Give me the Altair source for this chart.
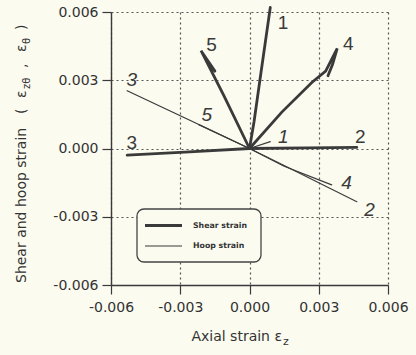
import altair as alt
import pandas as pd

# Strain paths for each loading case: shear (thick) and hoop (thin) strains vs axial strain
shear_1_x = [0.0, 0.0002, 0.00045, 0.0009]
shear_1_y = [0.0, 0.0012, 0.0030, 0.0062]
shear_2_x = [0.0, 0.0025, 0.00465]
shear_2_y = [0.0, 0.00003, 0.00005]
shear_3_x = [0.0, -0.0028, -0.0053]
shear_3_y = [0.0, -0.00016, -0.00029]
shear_4_x = [0.0, 0.0014, 0.0027, 0.0033, 0.0038, 0.0036, 0.0034]
shear_4_y = [0.0, 0.0016, 0.0029, 0.0034, 0.0044, 0.0037, 0.0032]
shear_5_x = [0.0, -0.0011, -0.0021, -0.0015]
shear_5_y = [0.0, 0.0023, 0.0043, 0.0034]

hoop_1_x = [0.0, 0.0009]
hoop_1_y = [0.0, 0.0003]
hoop_2_x = [0.0, 0.0015, 0.00465]
hoop_2_y = [0.0, -0.00075, -0.00234]
hoop_3_x = [0.0, -0.0027, -0.0053]
hoop_3_y = [0.0, 0.0013, 0.00254]
hoop_4_x = [0.0, 0.0015, 0.00356]
hoop_4_y = [0.0, -0.00078, -0.0016]
hoop_5_x = [0.0, -0.0022]
hoop_5_y = [0.0, 0.00105]

# Case labels placed at the ends of the paths
shear_label_text = ["1", "2", "3", "4", "5"]
shear_label_x = [0.00145, 0.0048, -0.0051, 0.00428, -0.00164]
shear_label_y = [0.0055, 0.0005, 0.00023, 0.0046, 0.00455]
hoop_label_text = ["1", "2", "3", "4", "5"]
hoop_label_x = [0.00146, 0.0052, -0.0051, 0.0042, -0.00185]
hoop_label_y = [0.00052, -0.0027, 0.0030, -0.00153, 0.00147]

legend_labels = ["Shear strain", "Hoop strain"]

TICKS = [-0.006, -0.0045, -0.003, -0.0015, 0.0, 0.0015, 0.003, 0.0045, 0.006]

rows = []
series = [
    ("Shear strain", "1", shear_1_x, shear_1_y),
    ("Shear strain", "2", shear_2_x, shear_2_y),
    ("Shear strain", "3", shear_3_x, shear_3_y),
    ("Shear strain", "4", shear_4_x, shear_4_y),
    ("Shear strain", "5", shear_5_x, shear_5_y),
    ("Hoop strain", "1", hoop_1_x, hoop_1_y),
    ("Hoop strain", "2", hoop_2_x, hoop_2_y),
    ("Hoop strain", "3", hoop_3_x, hoop_3_y),
    ("Hoop strain", "4", hoop_4_x, hoop_4_y),
    ("Hoop strain", "5", hoop_5_x, hoop_5_y),
]
for kind, case, xs_, ys_ in series:
    for i, (x, y) in enumerate(zip(xs_, ys_)):
        rows.append({"kind": kind, "path": kind + case, "x": x, "y": y, "order": i})
paths = pd.DataFrame(rows)

labels = pd.DataFrame(
    [{"t": t, "x": x, "y": y, "style": "normal"} for t, x, y in zip(shear_label_text, shear_label_x, shear_label_y)]
    + [{"t": t, "x": x, "y": y, "style": "italic"} for t, x, y in zip(hoop_label_text, hoop_label_x, hoop_label_y)]
)

INK = "#3a3a3a"
TXT = "#333333"
BG = "#fbfbf0"
FONT = "DejaVu Sans"
major = "abs(datum.value * 1000 - round(datum.value * 1000 / 3) * 3) < 0.01"
label_expr = ("abs(datum.value * 1000 - round(datum.value * 1000 / 3) * 3) < 0.01 ? "
              "((datum.value < -0.0001 ? '-' : '') + format(abs(datum.value), '.3f')) : ''")

def axis(**kw):
    return alt.Axis(
        values=TICKS,
        labelExpr=label_expr,
        title=None,
        grid=True,
        gridDash=[2, 3],
        gridColor="#555555",
        gridWidth=1.2,
        gridOpacity={"condition": {"test": major, "value": 1}, "value": 0},
        tickSize={"condition": {"test": major, "value": 9}, "value": 4},
        tickColor=INK,
        tickWidth=1.2,
        domainColor=INK,
        domainWidth=1.4,
        labelFont=FONT,
        labelFontSize=14,
        labelColor=TXT,
        labelFlush=False,
        **kw,
    )

xs = alt.Scale(domain=[-0.006, 0.006], nice=False, zero=False)
ys = alt.Scale(domain=[-0.006, 0.006], nice=False, zero=False)

lines = alt.Chart(paths).mark_line(color=INK, clip=False, strokeCap="round").encode(
    x=alt.X("x:Q", scale=xs, axis=axis(labelPadding=6)),
    y=alt.Y("y:Q", scale=ys, axis=axis(labelPadding=4)),
    detail="path:N",
    order="order:Q",
    strokeWidth=alt.StrokeWidth(
        "kind:N",
        scale=alt.Scale(domain=legend_labels, range=[2.8, 1.2]),
        legend=None,
    ),
)

text_shear = alt.Chart(labels).transform_filter("datum.style == 'normal'").mark_text(
    font="Liberation Sans", fontSize=19, color=INK
).encode(x=alt.X("x:Q", scale=xs), y=alt.Y("y:Q", scale=ys), text="t:N")

text_hoop = alt.Chart(labels).transform_filter("datum.style == 'italic'").mark_text(
    font="Liberation Sans", fontSize=19, fontStyle="italic", color=INK
).encode(x=alt.X("x:Q", scale=xs), y=alt.Y("y:Q", scale=ys), text="t:N")

# Legend box with sample strokes and labels
one = pd.DataFrame({"k": [0]})
leg_box = alt.Chart(one).mark_rect(
    fill=BG, stroke="#444444", strokeWidth=1.3, cornerRadius=7
).encode(x=alt.value(26), x2=alt.value(150), y=alt.value(197), y2=alt.value(250))
leg_shear = alt.Chart(one).mark_rule(color=INK, strokeWidth=2.8).encode(
    x=alt.value(34), x2=alt.value(71), y=alt.value(213.5))
leg_hoop = alt.Chart(one).mark_rule(color=INK, strokeWidth=1.2).encode(
    x=alt.value(34), x2=alt.value(71), y=alt.value(234))
leg_t1 = alt.Chart(one).mark_text(
    text=legend_labels[0], font=FONT, fontSize=7.8, fontWeight="bold", color=TXT,
    align="left", baseline="middle").encode(x=alt.value(82), y=alt.value(213.5))
leg_t2 = alt.Chart(one).mark_text(
    text=legend_labels[1], font=FONT, fontSize=7.8, fontWeight="bold", color=TXT,
    align="left", baseline="middle").encode(x=alt.value(82), y=alt.value(234))

# Axis titles with subscripted strain symbols
def piece(text, x, y, size=14, angle=0, align="left"):
    return alt.Chart(one).mark_text(
        text=text, font=FONT, fontSize=size, color=TXT, angle=angle,
        align=align, baseline="middle",
    ).encode(x=alt.value(x), y=alt.value(y))

x_title = [
    piece("Axial strain  ε", 171, 325, align="right"),
    piece("z", 172, 330, size=11),
]
y_title = [
    piece("Shear and hoop strain", -89, 271, angle=270),
    piece("(", -89, 102, angle=270),
    piece("ε", -89, 86, angle=270),
    piece("zθ", -84, 77, size=10, angle=270),
    piece(",", -89, 56, angle=270),
    piece("ε", -89, 40, angle=270),
    piece("θ", -84, 32, size=10, angle=270),
    piece(")", -89, 18, angle=270),
]

chart = alt.layer(
    lines, text_shear, text_hoop, leg_box, leg_shear, leg_hoop, leg_t1, leg_t2,
    *x_title, *y_title,
).properties(
    width=277,
    height=273,
    background=BG,
    autosize=alt.AutoSizeParams(type="none"),
    padding={"left": 111, "top": 12, "right": 28, "bottom": 70},
).configure_view(stroke=None)

chart.save("out.html", embed_options={"renderer": "svg", "actions": False})
